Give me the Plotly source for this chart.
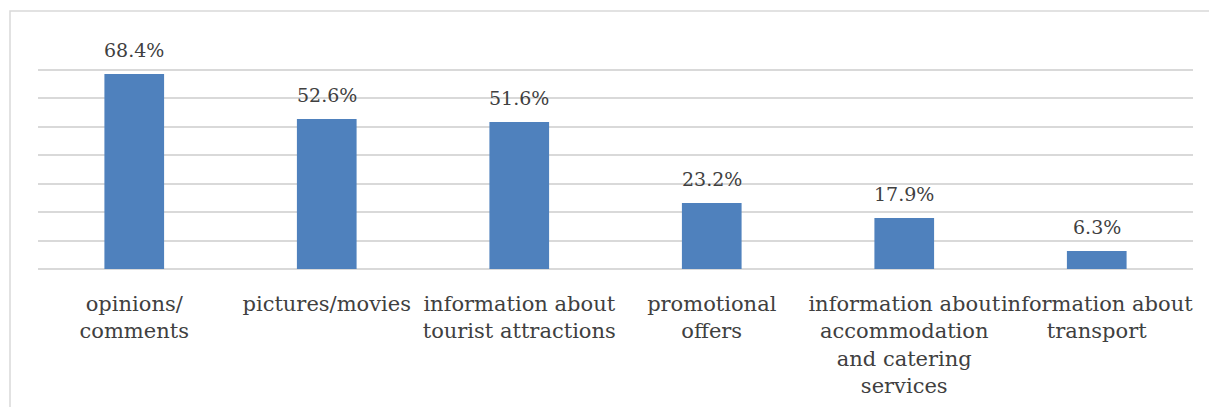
import plotly.graph_objects as go

categories = ["opinions/<br>comments", "pictures/movies", "information about<br>tourist attractions",
              "promotional<br>offers", "information about<br>accommodation<br>and catering<br>services",
              "information about<br>transport"]
values = [68.4, 52.6, 51.6, 23.2, 17.9, 6.3]
labels = ["68.4%", "52.6%", "51.6%", "23.2%", "17.9%", "6.3%"]

W, H = 1209, 407
L, R, T, B = 38, 16, 41, 138
FONT = "DejaVu Serif"
TXT = "#404040"

fig = go.Figure(go.Bar(
    x=categories, y=values,
    marker=dict(color="#4F81BD", line=dict(width=0)),
))
for c, v, t in zip(categories, values, labels):
    fig.add_annotation(x=c, y=v, text=t, showarrow=False, yanchor="bottom", yshift=11,
                       font=dict(family=FONT, size=19, color=TXT))
fig.update_layout(
    width=W, height=H,
    margin=dict(l=L, r=R, t=T, b=B, autoexpand=False),
    paper_bgcolor="white", plot_bgcolor="white",
    bargap=0.69, showlegend=False,
    font=dict(family=FONT, color=TXT),
    xaxis=dict(showgrid=False, showline=False, ticks="", tickfont=dict(family=FONT, size=21, color=TXT),
               tickangle=0, automargin=False, ticklabelstandoff=20),
    yaxis=dict(range=[0, 80], dtick=10, showticklabels=False, gridcolor="#D9D9D9", gridwidth=1.5,
               zeroline=True, zerolinecolor="#D9D9D9", zerolinewidth=1.5, showline=False),
)
pw, ph = W - L - R, H - T - B
fig.add_shape(type="rect", xref="paper", yref="paper",
              x0=(10 - L) / pw, x1=(W + 20 - L) / pw,
              y0=(H - B - (H + 20)) / ph, y1=(H - B - 11) / ph,
              line=dict(color="#D9D9D9", width=1.5), fillcolor="rgba(0,0,0,0)", layer="below")
fig.write_html("out.html")
